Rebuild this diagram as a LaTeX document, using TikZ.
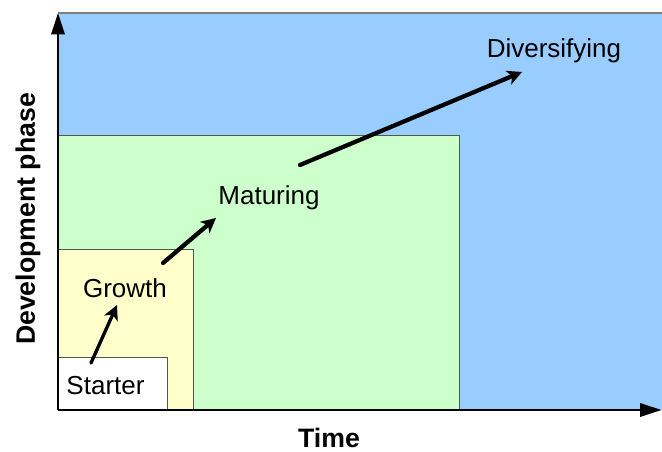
\documentclass[tikz,border=0pt]{standalone}
\usepackage{fontspec}
\setmainfont{Liberation Sans}
\usetikzlibrary{arrows.meta}

\definecolor{diverblue}{HTML}{99CCFF}
\definecolor{maturegreen}{HTML}{CCFFCC}
\definecolor{growthyellow}{HTML}{FFFFCC}
\definecolor{phaseedge}{HTML}{4D5A4D}

\begin{document}
\begin{tikzpicture}[x=0.75pt,y=0.75pt,line join=round,
  phase/.style={draw=phaseedge,line width=0.6pt},
  phaselabel/.style={font=\fontsize{19.5}{22}\selectfont,inner sep=0pt,anchor=base},
  axislabel/.style={font=\fontsize{20}{24}\selectfont\bfseries,inner sep=0pt,anchor=base},
  axis/.style={line width=1.5pt,-{Triangle[length=16pt,width=10pt]}},
  flow/.style={line width=3.2pt,line cap=round,-{Stealth[length=11pt,width=11pt,inset=3pt]}}]
  \useasboundingbox (0,0) rectangle (662,452);

  % Nested phase areas, largest first.
  \fill[diverblue] (58,42) rectangle (662,439);
  \draw[gray,line width=0.8pt] (58,439) -- (662,439);
  \fill[maturegreen] (58,42) rectangle (459,317);
  \draw[phase] (58,42) rectangle (459,317);
  \fill[growthyellow] (58,42) rectangle (193,203);
  \draw[phase] (58,42) rectangle (193,203);
  \fill[white] (58,42) rectangle (167,95);
  \draw[phase] (58,42) rectangle (167,95);

  % Axes.
  \coordinate (origin) at (58,42);
  \coordinate (ytip) at (58,439);
  \coordinate (xtip) at (661.5,42);
  \draw[axis] (origin) -- (ytip);
  \draw[axis] (origin) -- (xtip);
  \node[axislabel] (timelabel) at (329,4) {Time};
  \node[axislabel,rotate=90] (devlabel) at (35,233) {Development phase};

  % Phase names.
  \node[phaselabel] (starter) at (105.5,57) {Starter};
  \node[phaselabel] (growth) at (125,154) {Growth};
  \node[phaselabel] (maturing) at (269,247) {Maturing};
  \node[phaselabel] (diversifying) at (554,394) {Diversifying};

  % Arrow ends between the phases.
  \coordinate (starterout) at (91,89);
  \coordinate (growthin) at (117,147);
  \coordinate (growthout) at (163,189);
  \coordinate (maturingin) at (216,234);
  \coordinate (maturingout) at (300,287);
  \coordinate (diversin) at (522,380);

  \draw[flow,line width=2.5pt] (starterout) -- (growthin);
  \draw[flow] (growthout) -- (maturingin);
  \draw[flow] (maturingout) -- (diversin);
\end{tikzpicture}
\end{document}
